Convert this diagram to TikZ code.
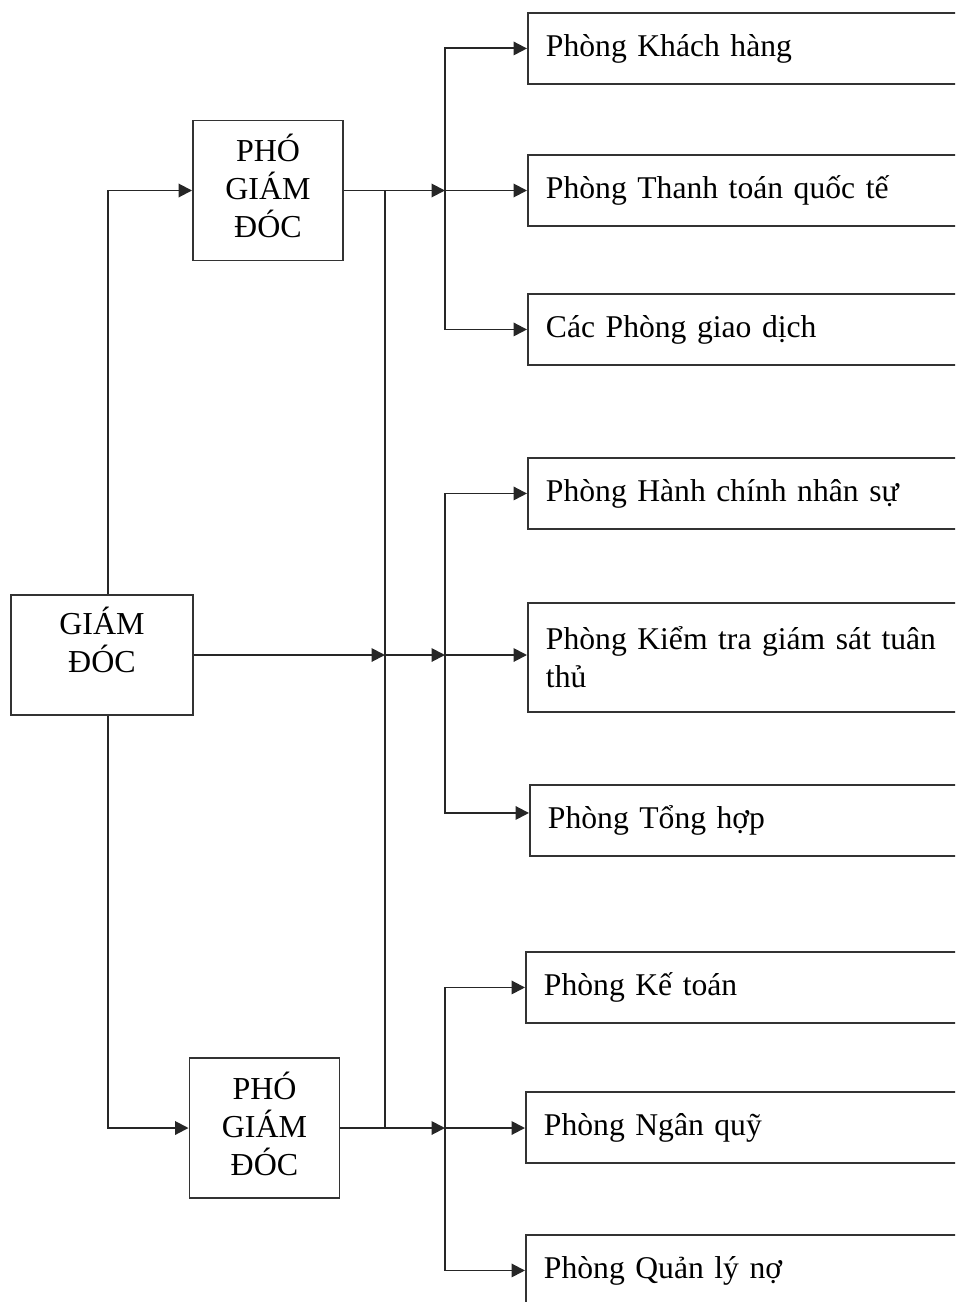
\documentclass[tikz,border=0pt]{standalone}
\usepackage{fontspec}
\setmainfont{Liberation Serif}
\usetikzlibrary{arrows.meta,positioning,calc}

\begin{document}
\begin{tikzpicture}[
    box/.style={draw=black!80, line width=1.1pt, align=center, font=\fontsize{18.2}{21.5}\selectfont},
    unit/.style={draw=black!80, line width=1.1pt, anchor=north west, text width=8.88cm, inner xsep=0.36cm, align=left, minimum height=1.42cm, font=\fontsize{18}{21.5}\selectfont},
    wire/.style={line width=1.1pt, black!85, -{Triangle[length=0.27cm, width=0.27cm]}},
    link/.style={line width=1.1pt, black!85}
  ]
  \useasboundingbox (0,0) rectangle (19.1,-26.04);
  \clip (0,0) rectangle (19.1,-26.04);

  \coordinate (spine) at (7.7,0);
  \coordinate (bus) at (8.9,0);

  % management
  \node[box, minimum width=3.64cm, minimum height=2.4cm, text depth=0.62cm] (gd) at (2.04,-13.1) {GIÁM\\ĐÓC};
  \node[box, minimum width=3.0cm, minimum height=2.8cm, text depth=0.18cm] (pgdA) at (5.36,-3.81) {PHÓ\\GIÁM\\ĐÓC};
  \node[box, minimum width=3.0cm, minimum height=2.8cm, text depth=0.18cm] (pgdB) at (5.29,-22.56) {PHÓ\\GIÁM\\ĐÓC};

  % departments
  \node[unit] (p1) at (10.54,-0.24) {Phòng Khách hàng};
  \node[unit] (p2) at (10.54,-3.08) {Phòng Thanh toán quốc tế};
  \node[unit] (p3) at (10.54,-5.86) {Các Phòng giao dịch};
  \node[unit] (p4) at (10.54,-9.14) {Phòng Hành chính nhân sự};
  \node[unit, minimum height=2.18cm] (p5) at (10.54,-12.04) {Phòng Kiểm tra giám sát tuân\\thủ};
  \node[unit] (p6) at (10.58,-15.68) {Phòng Tổng hợp};
  \node[unit] (p7) at (10.5,-19.02) {Phòng Kế toán};
  \node[unit] (p8) at (10.5,-21.82) {Phòng Ngân quỹ};
  \node[unit] (p9) at (10.5,-24.68) {Phòng Quản lý nợ};

  % director to deputies
  \draw[wire] ([xshift=0.12cm]gd.north) |- (pgdA.west);
  \draw[wire] ([xshift=0.12cm]gd.south) |- (pgdB.west);
  \draw[link] (pgdA.east -| spine) -- (pgdB.east -| spine);

  % top group
  \draw[wire] (pgdA.east) -- (pgdA.east -| bus);
  \draw[wire] (pgdA.east -| bus) -- (pgdA.east -| p2.west);
  \draw[wire] (pgdA.east -| bus) |- (p1.west);
  \draw[wire] (pgdA.east -| bus) |- (p3.west);

  % middle group
  \draw[wire] (gd.east) -- (gd.east -| spine);
  \draw[wire] (gd.east -| spine) -- (gd.east -| bus);
  \draw[wire] (gd.east -| bus) -- (gd.east -| p5.west);
  \draw[wire] (gd.east -| bus) |- (p4.west);
  \draw[wire] (gd.east -| bus) |- ([yshift=0.15cm]p6.west);

  % bottom group
  \draw[wire] (pgdB.east) -- (pgdB.east -| bus);
  \draw[wire] (pgdB.east -| bus) -- (pgdB.east -| p8.west);
  \draw[wire] (pgdB.east -| bus) |- (p7.west);
  \draw[wire] (pgdB.east -| bus) |- (p9.west);
\end{tikzpicture}
\end{document}
